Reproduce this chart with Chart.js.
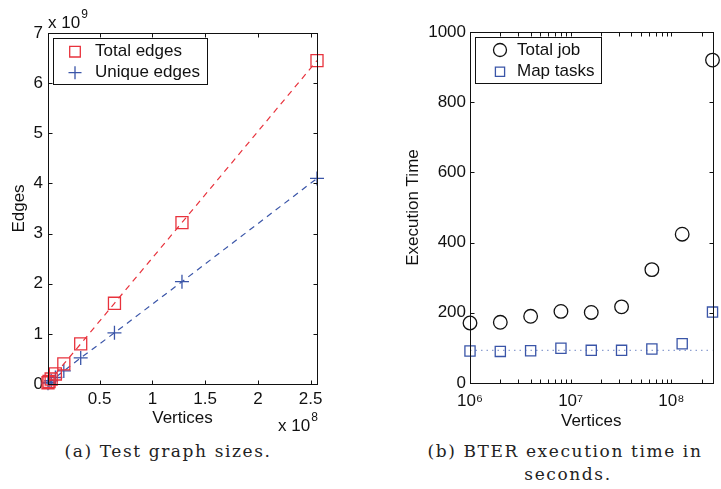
<!DOCTYPE html>
<html>
<head>
<meta charset="utf-8">
<script src="https://cdn.jsdelivr.net/npm/chart.js@4.4.1/dist/chart.umd.min.js"></script>
<style>
  html, body { margin: 0; padding: 0; background: #fff; }
  #wrap { position: relative; width: 721px; height: 489px; overflow: hidden; }
  canvas { position: absolute; top: 0; }
  .cap { position: absolute; font-family: "DejaVu Serif", "Liberation Serif", serif; font-size: 17px; letter-spacing: 1.6px; color: #222; text-align: center; white-space: nowrap; }
</style>
</head>
<body>
<div id="wrap">
  <canvas id="sizesChart" width="345" height="440" style="left:0px"></canvas>
  <canvas id="timeChart" width="341" height="440" style="left:380px"></canvas>
  <div class="cap" style="left:48px; width:240px; top:441px;">(a) Test graph sizes.</div>
  <div class="cap" style="left:405px; width:320px; top:441px;">(b) BTER execution time in</div>
  <div class="cap" style="left:408px; width:320px; top:464px;">seconds.</div>
</div>
<script>
// --- data ---
const vertices = [1e6, 2e6, 4e6, 8e6, 16e6, 32e6, 64e6, 128e6, 256e6];

// (a) edges
const totalEdges = [0.025e9, 0.05e9, 0.10e9, 0.20e9, 0.40e9, 0.80e9, 1.61e9, 3.22e9, 6.45e9];
const uniqueEdges = [0.017e9, 0.033e9, 0.065e9, 0.13e9, 0.26e9, 0.52e9, 1.02e9, 2.04e9, 4.10e9];
const edgeTicks = [0, 1e9, 2e9, 3e9, 4e9, 5e9, 6e9, 7e9];
const vertexTicksLin = [0.5e8, 1e8, 1.5e8, 2e8, 2.5e8];

// (b) execution time (seconds)
const totalJob = [171, 173, 190, 204, 201, 217, 323, 424, 920];
const mapTasks = [91, 90, 92, 99, 93, 93, 97, 112, 202];
const baselineX = [1e6, 2.56e8];
const baselineY = [93, 93];
const timeTicks = [0, 200, 400, 600, 800, 1000];
const vertexTicksLog = [1e6, 2e6, 3e6, 4e6, 5e6, 6e6, 7e6, 8e6, 9e6,
                        1e7, 2e7, 3e7, 4e7, 5e7, 6e7, 7e7, 8e7, 9e7,
                        1e8, 2e8];

const FONT = '"Liberation Sans", Arial, Helvetica, sans-serif';
const RED = "#e8323c";
const BLUE = "#3a55a8";

function pts(xs, ys) {
    return xs.map((x, i) => ({ x, y: ys[i] }));
}

// box + inward ticks, boxed legend and "x 10^n" labels, all in one pass
const decor = {
    id: "decor",
    afterDraw(chart, args, o) {
        const ctx = chart.ctx;
        const xs = chart.scales.x, ys = chart.scales.y;
        const L = Math.round(xs.left) + 0.5, R = Math.round(xs.right) + 0.5;
        const T = Math.round(ys.top) + 0.5, B = Math.round(ys.bottom) + 0.5;

        // axes box and tick marks pointing inwards, mirrored on both sides
        try {
            const len = 4;
            ctx.save();
            ctx.globalAlpha = 1;
            ctx.globalCompositeOperation = "source-over";
            ctx.setLineDash([]);
            ctx.strokeStyle = "#111111";
            ctx.lineWidth = 1;
            ctx.strokeRect(L, T, R - L, B - T);
            xs.ticks.forEach((t) => {
                const p = Math.round(xs.getPixelForValue(t.value)) + 0.5;
                if (p < L - 1 || p > R + 1) return;
                ctx.beginPath();
                ctx.moveTo(p, B); ctx.lineTo(p, B - len);
                ctx.moveTo(p, T); ctx.lineTo(p, T + len);
                ctx.stroke();
            });
            ys.ticks.forEach((t) => {
                const p = Math.round(ys.getPixelForValue(t.value)) + 0.5;
                ctx.beginPath();
                ctx.moveTo(L, p); ctx.lineTo(L + len, p);
                ctx.moveTo(R, p); ctx.lineTo(R - len, p);
                ctx.stroke();
            });
            ctx.restore();
        } catch (e) { /* keep going */ }

        // legend
        try {
            const lg = o.box;
            ctx.save();
            ctx.setLineDash([]);
            ctx.fillStyle = "#fff";
            ctx.fillRect(lg.x, lg.y, lg.w, lg.h);
            ctx.strokeStyle = "#111";
            ctx.lineWidth = 1;
            ctx.strokeRect(lg.x + 0.5, lg.y + 0.5, lg.w, lg.h);
            lg.items.forEach((idx, row) => {
                const ds = chart.data.datasets[idx];
                const y = lg.rows[row];
                ctx.fillStyle = "rgba(0,0,0,0)";
                ctx.strokeStyle = ds.borderColor;
                ctx.lineWidth = ds.pointBorderWidth || 1;
                Chart.helpers.drawPoint(ctx, {
                    pointStyle: ds.pointStyle,
                    radius: lg.radius[row],
                    borderWidth: ds.pointBorderWidth || 1,
                    rotation: 0,
                }, lg.markerX, y);
                ctx.fillStyle = "#111";
                ctx.font = "17px " + FONT;
                ctx.textBaseline = "middle";
                ctx.textAlign = "left";
                ctx.fillText(ds.label, lg.textX, y);
            });
            ctx.restore();
        } catch (e) { /* keep going */ }

        // multiplier labels
        ctx.save();
        ctx.fillStyle = "#111";
        ctx.textBaseline = "middle";
        ctx.textAlign = "left";
        (o.exps || []).forEach((l) => {
            ctx.font = "17px " + FONT;
            ctx.fillText("x 10", l.x, l.y);
            const w = ctx.measureText("x 10").width;
            ctx.font = "12px " + FONT;
            ctx.fillText(l.exp, l.x + w + 1, l.y - 8);
        });
        ctx.restore();
    },
};

function fixedWidth(w) {
    return (s) => { s.width = w; };
}
function fixedHeight(h) {
    return (s) => { s.height = h; };
}

const axisFont = { family: FONT, size: 17 };
const axisBorder = { display: true, color: "#111", width: 1 };

new Chart(document.getElementById("sizesChart"), {
    type: "scatter",
    data: {
        datasets: [
            {
                label: "Total edges",
                data: pts(vertices, totalEdges),
                showLine: true,
                borderColor: RED,
                borderWidth: 1.2,
                borderDash: [6, 5],
                pointStyle: "rect",
                pointRadius: 8.5,
                pointBorderWidth: 1.3,
                backgroundColor: "transparent",
                pointBackgroundColor: "transparent",
                clip: false,
            },
            {
                label: "Unique edges",
                data: pts(vertices, uniqueEdges),
                showLine: true,
                borderColor: BLUE,
                borderWidth: 1.2,
                borderDash: [6, 5],
                pointStyle: "cross",
                pointRadius: 7,
                pointBorderWidth: 1.3,
                backgroundColor: "transparent",
                clip: false,
            },
        ],
    },
    options: {
        responsive: false,
        animation: false,
        events: [],
        layout: { padding: { top: 33, right: 28, left: 0, bottom: 6 } },
        scales: {
            x: {
                type: "linear",
                min: 1e6,
                max: 2.56e8,
                afterBuildTicks: (s) => { s.ticks = vertexTicksLin.map((v) => ({ value: v })); },
                afterFit: fixedHeight(50),
                grid: { display: false, drawTicks: false },
                border: axisBorder,
                ticks: {
                    padding: 5,
                    color: "#111",
                    font: axisFont,
                    maxRotation: 0,
                    autoSkip: false,
                    callback: (v) => String(v / 1e8),
                },
                title: {
                    display: true,
                    text: "Vertices",
                    color: "#111",
                    font: axisFont,
                    padding: { top: 0, bottom: 5 },
                },
            },
            y: {
                type: "linear",
                min: 0,
                max: 7e9,
                afterBuildTicks: (s) => { s.ticks = edgeTicks.map((v) => ({ value: v })); },
                afterFit: fixedWidth(48),
                grid: { display: false, drawTicks: false },
                border: axisBorder,
                ticks: {
                    padding: 5,
                    color: "#111",
                    font: axisFont,
                    autoSkip: false,
                    callback: (v) => String(v / 1e9),
                },
                title: {
                    display: true,
                    text: "Edges",
                    color: "#111",
                    font: axisFont,
                    padding: { top: 9, bottom: 0 },
                },
            },
        },
        plugins: {
            legend: { display: false },
            tooltip: { enabled: false },
            decor: {
                box: {
                    x: 53, y: 38, w: 154, h: 46,
                    markerX: 75, textX: 95,
                    rows: [51.7, 72.7],
                    radius: [7.5, 6.5],
                    items: [0, 1],
                },
                exps: [
                    { x: 48, y: 23, exp: "9" },
                    { x: 278, y: 426, exp: "8" },
                ],
            },
        },
    },
    plugins: [decor],
});

const supers = { 6: "\u2076", 7: "\u2077", 8: "\u2078" };

new Chart(document.getElementById("timeChart"), {
    type: "scatter",
    data: {
        datasets: [
            {
                label: "Total job",
                data: pts(vertices, totalJob),
                showLine: false,
                borderColor: "#111",
                pointStyle: "circle",
                pointRadius: 6.8,
                pointBorderWidth: 1.3,
                backgroundColor: "transparent",
                pointBackgroundColor: "transparent",
                clip: false,
            },
            {
                label: "Map tasks",
                data: pts(vertices, mapTasks),
                showLine: false,
                borderColor: BLUE,
                pointStyle: "rect",
                pointRadius: 7.2,
                pointBorderWidth: 1.3,
                backgroundColor: "transparent",
                pointBackgroundColor: "transparent",
                clip: false,
            },
            {
                label: "Map baseline",
                data: pts(baselineX, baselineY),
                showLine: true,
                borderColor: "#8d9fd0",
                borderWidth: 1.2,
                borderDash: [1.5, 4],
                pointRadius: 0,
            },
        ],
    },
    options: {
        responsive: false,
        animation: false,
        events: [],
        layout: { padding: { top: 32, right: 5, left: 0, bottom: 7 } },
        scales: {
            x: {
                type: "logarithmic",
                min: 1e6,
                max: 2.56e8,
                afterBuildTicks: (s) => { s.ticks = vertexTicksLog.map((v) => ({ value: v })); },
                afterFit: fixedHeight(50),
                grid: { display: false, drawTicks: false },
                border: axisBorder,
                ticks: {
                    padding: 8,
                    color: "#111",
                    font: axisFont,
                    maxRotation: 0,
                    autoSkip: false,
                    callback: (v) => {
                        const e = Math.log10(v);
                        return Math.abs(e - Math.round(e)) < 1e-9 ? "10" + supers[Math.round(e)] : "";
                    },
                },
                title: {
                    display: true,
                    text: "Vertices",
                    color: "#111",
                    font: axisFont,
                    padding: { top: 0, bottom: 1 },
                },
            },
            y: {
                type: "linear",
                min: 0,
                max: 1000,
                afterBuildTicks: (s) => { s.ticks = timeTicks.map((v) => ({ value: v })); },
                afterFit: fixedWidth(90),
                grid: { display: false, drawTicks: false },
                border: axisBorder,
                ticks: {
                    padding: 4,
                    color: "#111",
                    font: axisFont,
                    autoSkip: false,
                    callback: (v) => String(v),
                },
                title: {
                    display: true,
                    text: "Execution Time",
                    color: "#111",
                    font: axisFont,
                    padding: { top: 23, bottom: 0 },
                },
            },
        },
        plugins: {
            legend: { display: false },
            tooltip: { enabled: false },
            decor: {
                box: {
                    x: 95, y: 37, w: 126, h: 46,
                    markerX: 120, textX: 137,
                    rows: [50, 71.7],
                    radius: [6.5, 6.5],
                    items: [0, 1],
                },
                exps: [],
            },
        },
    },
    plugins: [decor],
});
</script>
</body>
</html>
